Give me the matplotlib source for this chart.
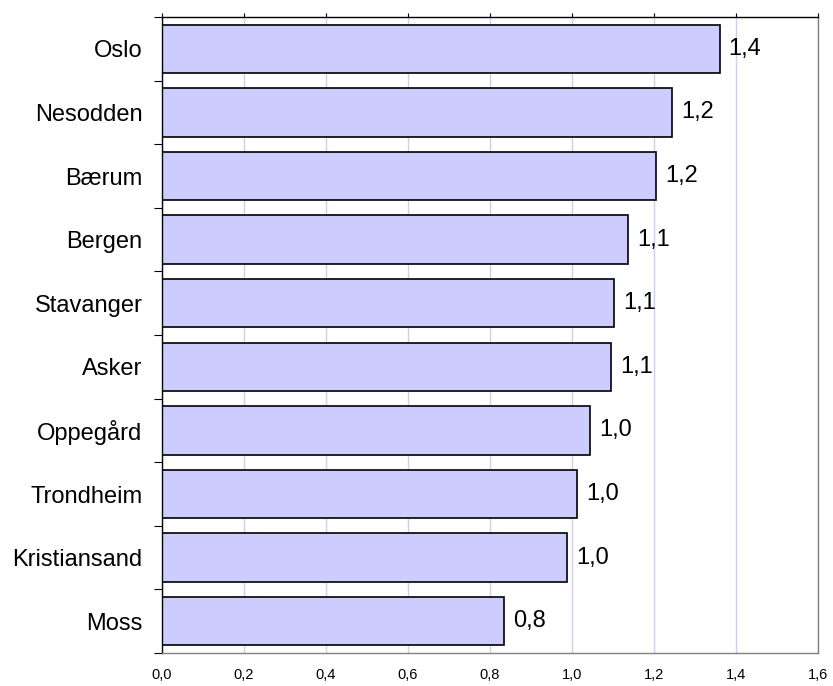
import matplotlib
matplotlib.use('Agg')
import matplotlib.pyplot as plt
import numpy as np

plt.rcParams['font.family'] = ['Liberation Sans', 'DejaVu Sans']

# data
kommuner = ['Oslo', 'Nesodden', 'Bærum', 'Bergen', 'Stavanger',
            'Asker', 'Oppegård', 'Trondheim', 'Kristiansand', 'Moss']
verdier = [1.36, 1.244, 1.205, 1.137, 1.102, 1.095, 1.044, 1.012, 0.988, 0.834]
x_ticks = [0.0, 0.2, 0.4, 0.6, 0.8, 1.0, 1.2, 1.4, 1.6]


def komma(v, des=1):
    return f'{v:.{des}f}'.replace('.', ',')


fig = plt.figure(figsize=(8.33, 6.86), dpi=100, facecolor='white')
ax = fig.add_axes([0.1945, 0.0481, 0.7875, 0.9271])

y = np.arange(len(kommuner))
ax.barh(y, verdier, height=0.76, color='#ccccff', edgecolor='black',
        linewidth=1.2, zorder=3)

for yi, v in zip(y, verdier):
    ax.text(v + 0.022, yi, komma(v), va='center', ha='left', fontsize=17, zorder=4)

ax.set_xlim(0, 1.6)
ax.set_ylim(len(kommuner) - 0.5, -0.5)

# x-akse: etiketter nede, små streker oppe
ax.set_xticks(x_ticks)
ax.set_xticklabels([komma(t) for t in x_ticks], fontsize=10.5)
ax.tick_params(axis='x', which='major', bottom=False, top=True,
               labelbottom=True, labeltop=False, direction='out',
               length=3, width=0.8, pad=8)
ax.grid(axis='x', color='#ccccff', linewidth=1, zorder=0)

# y-akse: navn i midten, streker mellom stolpene
ax.set_yticks(y)
ax.set_yticklabels(kommuner, fontsize=17)
ax.set_yticks(np.arange(-0.5, len(kommuner), 1.0), minor=True)
ax.tick_params(axis='y', which='major', length=0, pad=14)
ax.tick_params(axis='y', which='minor', length=6, width=0.8, direction='out')

ax.spines['left'].set_color('black')
ax.spines['top'].set_color('black')
ax.spines['right'].set_color('#808080')
ax.spines['bottom'].set_color('#808080')
for s in ax.spines.values():
    s.set_linewidth(1.0)
    s.set_zorder(5)

fig.savefig('out.png', dpi=100)
plt.close(fig)
